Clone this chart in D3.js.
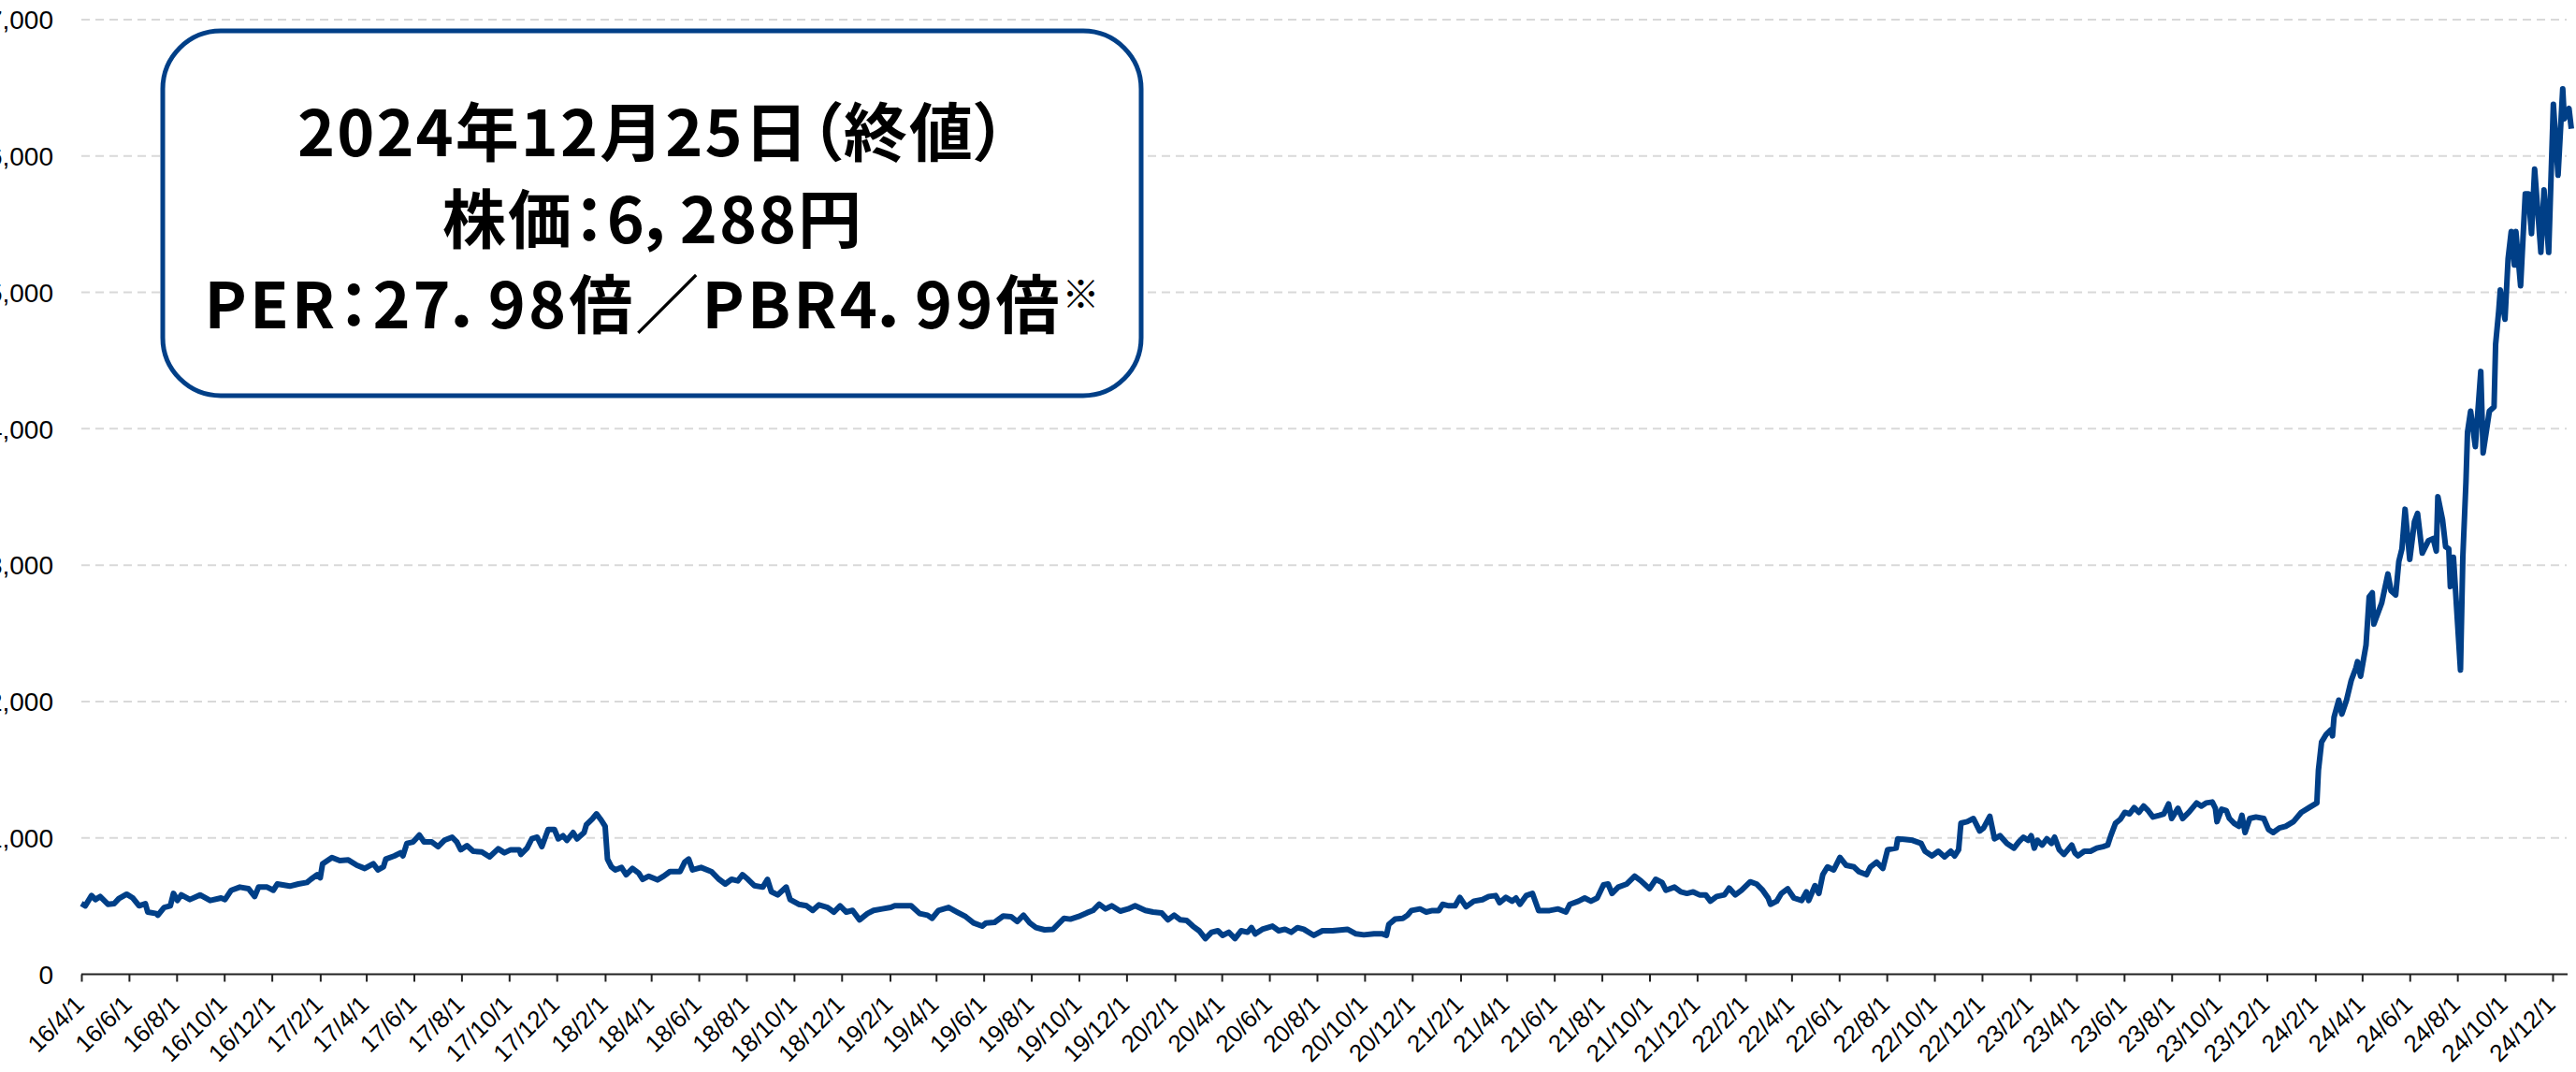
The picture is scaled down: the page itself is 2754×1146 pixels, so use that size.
<!DOCTYPE html>
<html lang="ja">
  <head>
    <meta charset="utf-8" />
    <title>株価推移</title>
    <script type="text/javascript" src="https://d3js.org/d3.v7.min.js"></script>
    <style>
      body {
        margin: 0;
        background: #fff;
      }
      .grid line {
        stroke: #d9d9d9;
        stroke-width: 2px;
        stroke-dasharray: 9 6;
      }
      .y.axis text {
        font-family: "Liberation Sans", Arial, sans-serif;
        font-size: 28px;
        fill: #000;
      }
      .x.axis path,
      .x.axis line {
        stroke: #222;
        stroke-width: 2px;
      }
      .x.axis text {
        font-family: "Liberation Sans", Arial, sans-serif;
        font-size: 26px;
        fill: #000;
      }
      path.price {
        fill: none;
        stroke: #003f87;
        stroke-width: 6px;
        stroke-linejoin: round;
      }
      .infobox rect {
        fill: #fff;
        stroke: #003f87;
        stroke-width: 5px;
      }
      .infobox text {
        font-family: "Noto Sans CJK JP", sans-serif;
        font-weight: 700;
        font-size: 68px;
        fill: #000;
        font-feature-settings: "palt";
      }
    </style>
  </head>

  <body>
    <script>
      // closing prices, [date, yen]
      const p2016 = [["2016-04-01",518],["2016-04-06",502],["2016-04-14",577],["2016-04-19",548],["2016-04-25",570],["2016-05-05",513],["2016-05-13",518],["2016-05-19",555],["2016-05-29",587],["2016-06-06",559],["2016-06-14",502],["2016-06-22",518],["2016-06-25",456],["2016-07-06",445],["2016-07-08",433],["2016-07-16",490],["2016-07-24",502],["2016-07-28",593],["2016-08-02",541],["2016-08-07",582],["2016-08-18",548],["2016-08-31",582],["2016-09-13",541],["2016-09-27",559],["2016-10-02",548],["2016-10-10",616],["2016-10-21",639],["2016-11-01",628],["2016-11-09",570],["2016-11-14",639],["2016-11-25",639],["2016-12-03",616],["2016-12-08",662],["2016-12-24",646]];
      const p2017 = [["2017-01-04",662],["2017-01-15",673],["2017-01-20",696],["2017-01-28",730],["2017-02-01",707],["2017-02-04",810],["2017-02-16",856],["2017-02-26",833],["2017-03-09",838],["2017-03-20",799],["2017-03-30",776],["2017-04-10",810],["2017-04-16",765],["2017-04-23",788],["2017-04-26",845],["2017-05-07",868],["2017-05-15",891],["2017-05-18",868],["2017-05-23",959],["2017-05-31",970],["2017-06-08",1021],["2017-06-14",970],["2017-06-24",970],["2017-07-02",936],["2017-07-10",982],["2017-07-20",1005],["2017-07-26",970],["2017-07-31",913],["2017-08-08",943],["2017-08-16",902],["2017-08-27",897],["2017-09-06",861],["2017-09-17",920],["2017-09-25",891],["2017-10-03",913],["2017-10-14",913],["2017-10-16",879],["2017-10-24",925],["2017-10-30",993],["2017-11-06",1005],["2017-11-12",936],["2017-11-20",1062],["2017-11-28",1062],["2017-12-03",993],["2017-12-09",1016],["2017-12-14",982],["2017-12-22",1039],["2017-12-27",993]];
      const p2018 = [["2018-01-05",1039],["2018-01-08",1096],["2018-01-16",1142],["2018-01-21",1176],["2018-01-27",1130],["2018-02-01",1085],["2018-02-04",845],["2018-02-09",788],["2018-02-14",765],["2018-02-22",783],["2018-02-28",730],["2018-03-08",776],["2018-03-16",742],["2018-03-21",696],["2018-03-29",719],["2018-04-09",692],["2018-04-17",719],["2018-04-25",753],["2018-05-08",753],["2018-05-14",822],["2018-05-19",845],["2018-05-24",765],["2018-06-04",783],["2018-06-17",753],["2018-06-27",696],["2018-07-05",662],["2018-07-13",696],["2018-07-21",685],["2018-07-27",730],["2018-08-03",696],["2018-08-11",650],["2018-08-22",639],["2018-08-28",696],["2018-09-02",605],["2018-09-10",582],["2018-09-21",639],["2018-09-26",548],["2018-10-07",513],["2018-10-17",502],["2018-10-25",468],["2018-11-02",509],["2018-11-13",490],["2018-11-21",456],["2018-11-29",502],["2018-12-07",456],["2018-12-15",468],["2018-12-24",399]];
      const p2019 = [["2019-01-03",445],["2019-01-11",468],["2019-01-22",479],["2019-02-02",490],["2019-02-07",502],["2019-02-18",502],["2019-02-28",502],["2019-03-11",445],["2019-03-21",433],["2019-03-27",410],["2019-04-04",468],["2019-04-17",490],["2019-04-28",456],["2019-05-09",422],["2019-05-19",376],["2019-05-30",353],["2019-06-04",376],["2019-06-15",381],["2019-06-26",427],["2019-07-06",422],["2019-07-14",387],["2019-07-22",433],["2019-07-30",376],["2019-08-07",342],["2019-08-18",326],["2019-08-29",330],["2019-09-06",376],["2019-09-12",410],["2019-09-20",404],["2019-09-30",422],["2019-10-11",450],["2019-10-19",468],["2019-10-27",513],["2019-11-04",479],["2019-11-12",502],["2019-11-23",463],["2019-12-03",479],["2019-12-12",502],["2019-12-25",468]];
      const p2020 = [["2020-01-04",456],["2020-01-15",450],["2020-01-23",399],["2020-01-31",433],["2020-02-08",399],["2020-02-16",395],["2020-02-24",353],["2020-03-03",319],["2020-03-11",262],["2020-03-19",308],["2020-03-27",319],["2020-04-02",285],["2020-04-10",308],["2020-04-18",262],["2020-04-26",319],["2020-05-04",308],["2020-05-09",342],["2020-05-14",296],["2020-05-23",330],["2020-06-05",353],["2020-06-13",319],["2020-06-21",330],["2020-06-29",308],["2020-07-07",342],["2020-07-15",330],["2020-07-28",285],["2020-08-08",319],["2020-08-21",319],["2020-09-09",330],["2020-09-20",296],["2020-09-30",289],["2020-10-13",296],["2020-10-24",296],["2020-10-29",285],["2020-11-01",365],["2020-11-09",404],["2020-11-19",410],["2020-11-25",433],["2020-11-30",467],["2020-12-11",479],["2020-12-19",456],["2020-12-27",467]];
      const p2021 = [["2021-01-04",467],["2021-01-09",513],["2021-01-17",502],["2021-01-25",502],["2021-01-31",563],["2021-02-08",495],["2021-02-18",536],["2021-03-01",547],["2021-03-09",570],["2021-03-18",577],["2021-03-23",525],["2021-03-31",563],["2021-04-08",536],["2021-04-13",559],["2021-04-18",513],["2021-04-26",577],["2021-05-04",593],["2021-05-12",467],["2021-05-26",467],["2021-06-06",479],["2021-06-16",456],["2021-06-21",513],["2021-07-02",536],["2021-07-10",559],["2021-07-18",536],["2021-07-26",559],["2021-08-03",655],["2021-08-09",662],["2021-08-14",593],["2021-08-22",639],["2021-09-02",662],["2021-09-12",719],["2021-09-20",685],["2021-10-01",627],["2021-10-09",696],["2021-10-17",673],["2021-10-22",616],["2021-11-02",639],["2021-11-10",604],["2021-11-18",593],["2021-11-26",604],["2021-12-04",582],["2021-12-12",582],["2021-12-18",536],["2021-12-26",570]];
      const p2022 = [["2022-01-05",582],["2022-01-11",632],["2022-01-19",582],["2022-01-27",616],["2022-02-07",678],["2022-02-15",662],["2022-02-23",616],["2022-03-02",559],["2022-03-05",513],["2022-03-13",536],["2022-03-19",593],["2022-03-27",627],["2022-04-04",559],["2022-04-14",541],["2022-04-20",604],["2022-04-23",541],["2022-05-01",650],["2022-05-06",593],["2022-05-11",730],["2022-05-17",787],["2022-05-25",765],["2022-06-02",856],["2022-06-10",799],["2022-06-20",787],["2022-06-26",753],["2022-07-06",730],["2022-07-11",787],["2022-07-19",822],["2022-07-27",776],["2022-08-02",913],["2022-08-13",925],["2022-08-15",993],["2022-08-23",989],["2022-09-03",982],["2022-09-14",959],["2022-09-19",902],["2022-09-28",868],["2022-10-06",902],["2022-10-14",861],["2022-10-22",902],["2022-10-27",868],["2022-11-01",913],["2022-11-04",1108],["2022-11-12",1119],["2022-11-20",1142],["2022-11-28",1050],["2022-12-03",1073],["2022-12-11",1158],["2022-12-17",993],["2022-12-24",1016]];
      const p2023 = [["2023-01-02",959],["2023-01-11",925],["2023-01-17",970],["2023-01-23",1005],["2023-01-29",982],["2023-02-02",1016],["2023-02-06",925],["2023-02-10",982],["2023-02-16",947],["2023-02-22",993],["2023-02-28",959],["2023-03-04",1005],["2023-03-10",913],["2023-03-16",879],["2023-03-26",947],["2023-03-30",890],["2023-04-03",868],["2023-04-11",902],["2023-04-19",902],["2023-04-27",925],["2023-05-05",936],["2023-05-11",947],["2023-05-15",1016],["2023-05-21",1107],["2023-05-27",1135],["2023-06-02",1187],["2023-06-08",1176],["2023-06-14",1222],["2023-06-20",1187],["2023-06-26",1233],["2023-07-02",1199],["2023-07-08",1153],["2023-07-16",1165],["2023-07-22",1176],["2023-07-28",1249],["2023-08-01",1142],["2023-08-09",1217],["2023-08-15",1142],["2023-08-23",1187],["2023-09-02",1256],["2023-09-08",1233],["2023-09-14",1256],["2023-09-22",1263],["2023-09-26",1217],["2023-09-28",1119],["2023-10-04",1210],["2023-10-10",1199],["2023-10-14",1142],["2023-10-20",1107],["2023-10-26",1085],["2023-10-30",1165],["2023-11-03",1039],["2023-11-09",1142],["2023-11-17",1153],["2023-11-27",1142],["2023-12-03",1062],["2023-12-09",1039],["2023-12-17",1073],["2023-12-25",1085]];
      const p2024 = [["2024-01-04",1119],["2024-01-14",1187],["2024-01-24",1222],["2024-02-03",1256],["2024-02-05",1496],["2024-02-09",1702],["2024-02-15",1759],["2024-02-21",1793],["2024-02-23",1748],["2024-02-25",1885],["2024-03-02",2010],["2024-03-06",1908],["2024-03-12",2010],["2024-03-18",2154],["2024-03-24",2246],["2024-03-26",2292],["2024-03-30",2185],["2024-04-06",2415],["2024-04-10",2767],["2024-04-14",2797],["2024-04-16",2568],["2024-04-22",2660],["2024-04-26",2721],["2024-05-04",2935],["2024-05-08",2813],["2024-05-14",2782],["2024-05-18",3027],["2024-05-22",3119],["2024-05-26",3410],["2024-06-01",3042],["2024-06-07",3318],["2024-06-11",3379],["2024-06-17",3088],["2024-06-25",3180],["2024-07-01",3195],["2024-07-05",3103],["2024-07-07",3502],["2024-07-13",3333],["2024-07-17",3134],["2024-07-21",3119],["2024-07-23",2843],["2024-07-27",3058],["2024-08-05",2231],["2024-08-08",3058],["2024-08-12",3609],["2024-08-14",3976],["2024-08-18",4129],["2024-08-24",3869],["2024-08-31",4420],["2024-09-03",3823],["2024-09-11",4129],["2024-09-17",4160],["2024-09-19",4619],["2024-09-23",4864],["2024-09-25",5017],["2024-10-01",4803],["2024-10-05",5247],["2024-10-09",5446],["2024-10-13",5201],["2024-10-15",5446],["2024-10-21",5048],["2024-10-27",5722],["2024-10-31",5722],["2024-11-04",5431],["2024-11-08",5905],["2024-11-16",5293],["2024-11-20",5752],["2024-11-26",5293],["2024-11-28",5660],["2024-12-02",6380],["2024-12-08",5859],["2024-12-14",6493],["2024-12-16",6273],["2024-12-22",6349],["2024-12-25",6200]];

      const yTicks = [0, 1000, 2000, 3000, 4000, 5000, 6000, 7000];
      const firstTick = "2016-04-01";
      const lastTick = "2024-12-01";
      const boxLines = ["2024年12月25日（終値）", "株価：6，288円", "PER：27．98倍／PBR4．99倍"];
      const boxNote = "※";

      let w = 2754;
      let h = 1146;

      function draw() {
        let parse = d3.timeParse("%Y-%m-%d");
        let data = [].concat(p2016, p2017, p2018, p2019, p2020, p2021, p2022, p2023, p2024)
          .map((d) => ({ date: parse(d[0]), price: d[1] }));

        let svg = d3.select("body").append("svg").attr("width", w).attr("height", h);

        let x_scale = d3
          .scaleTime()
          .domain([parse("2016-04-01"), parse("2024-12-25")])
          .range([87, 2749]);

        let y_scale = d3.scaleLinear().domain([0, 7000]).range([1041.5, 21]);

        // dashed gridlines
        svg
          .append("g")
          .attr("class", "grid")
          .selectAll("line")
          .data(yTicks.filter((d) => d > 0))
          .join("line")
          .attr("x1", 87)
          .attr("x2", 2744)
          .attr("y1", (d) => y_scale(d))
          .attr("y2", (d) => y_scale(d));

        // labels sit so far left that the first digit runs off the page, as in the source
        let y_axis = d3.axisLeft(y_scale).tickValues(yTicks).tickFormat(d3.format(",")).tickSize(0).tickPadding(0);
        let gy = svg.append("g").attr("class", "y axis").attr("transform", "translate(57,0)").call(y_axis);
        gy.select(".domain").remove();
        gy.selectAll("text").attr("dy", "0.35em");

        let tickDates = d3.timeMonth.range(parse(firstTick), d3.timeDay.offset(parse(lastTick), 1), 2);
        let x_axis = d3.axisBottom(x_scale).tickValues(tickDates).tickFormat(d3.timeFormat("%y/%-m/%-d")).tickSize(8).tickSizeOuter(0);
        let gx = svg
          .append("g")
          .attr("class", "x axis")
          .attr("transform", `translate(0,${y_scale(0)})`)
          .call(x_axis);
        gx.select(".domain").attr("d", `M87,0H2745`);
        gx.selectAll("text")
          .attr("x", 0)
          .attr("y", 0)
          .attr("dy", 0)
          .attr("text-anchor", "end")
          .attr("transform", "translate(4,34) rotate(-45)");

        let line = d3
          .line()
          .x((d) => x_scale(d.date))
          .y((d) => y_scale(d.price));

        svg.append("path").attr("class", "price").attr("d", line(data));

        // info box
        let box = svg.append("g").attr("class", "infobox");
        box.append("rect").attr("x", 174).attr("y", 33).attr("width", 1046).attr("height", 390).attr("rx", 62).attr("ry", 62);

        let baselines = [167, 260, 351];
        let widths = [758, 448, 957];
        boxLines.forEach((t, i) => {
          let txt = box
            .append("text")
            .attr("x", 697)
            .attr("y", baselines[i])
            .attr("text-anchor", "middle")
            .attr("textLength", widths[i])
            .attr("lengthAdjust", "spacing");
          txt.append("tspan").text(t);
          if (i == 2) {
            txt.append("tspan").attr("dy", -22).style("font-size", "40px").text(boxNote);
          }
        });
      }

      draw();
    </script>
  </body>
</html>
